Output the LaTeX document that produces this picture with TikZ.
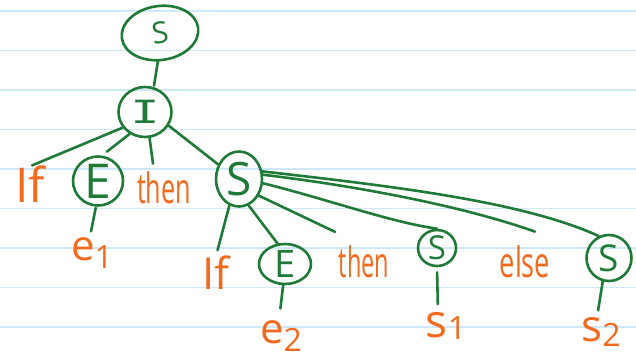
\documentclass[tikz,border=0pt]{standalone}
\usepackage{fontspec}
\setmainfont{Open Sans}
\newfontfamily\monohand{DejaVu Sans Mono}
\usetikzlibrary{shapes.geometric}
\definecolor{treegreen}{HTML}{1F7A38}
\definecolor{leaforange}{HTML}{F26A1D}
\definecolor{ruleblue}{HTML}{CFE8F8}
\newcommand\fsz[1]{\fontsize{#1}{#1}\selectfont}
\newcommand\hand[2]{\scalebox{#1}[1]{#2}}
\newcommand\lowsub[2]{\raisebox{-#1pt}{\fsz{32}#2}}
\begin{document}
\begin{tikzpicture}[x=1pt,y=-1pt,
  nt/.style={ellipse, draw=treegreen, line width=2.6pt, inner sep=0pt, text=treegreen},
  leaf/.style={text=leaforange, inner sep=0pt},
  edge/.style={draw=treegreen, line width=2.6pt, line cap=round},
  rule/.style={draw=ruleblue, line width=1.6pt}]
\useasboundingbox[fill=white] (0,0) rectangle (636,359);
% ruled paper
\foreach \y in {11,50.5,90,129.5,169,208.5,248,287.5,327}
  \draw[rule] (0,\y) -- (636,\y);

% non-terminals
\node[nt, minimum width=77pt, minimum height=54pt, font=\fsz{30}, rotate=8] (top) at (160,33) {S};
\node[nt, minimum width=53pt, minimum height=50pt, font=\monohand\fsz{32}] (I) at (145,112) {\hand{1.5}{I}};
\node[nt, minimum width=50pt, minimum height=49pt, font=\fsz{48}] (E1) at (98,181) {E};
\node[nt, minimum width=46pt, minimum height=55pt, font=\fsz{46}] (Sa) at (239,179) {S};
\node[nt, minimum width=52pt, minimum height=40pt, font=\fsz{38}] (E2) at (285,264) {E};
\node[nt, minimum width=38pt, minimum height=36pt, font=\fsz{33}] (S1) at (437,248) {S};
\node[nt, minimum width=45pt, minimum height=46pt, font=\fsz{37}] (S2) at (609,258) {S};

% terminals
\node[leaf, font=\fsz{48}] (if1) at (30,184) {If};
\node[leaf, font=\fsz{42}] (then1) at (164,188) {\hand{0.6}{then}};
\node[leaf, font=\fsz{42}] (e1) at (92,253) {e\lowsub{8}{1}};
\node[leaf, font=\fsz{44}] (if2) at (216,273) {If};
\node[leaf, font=\fsz{42}] (e2) at (281,336) {e\lowsub{8}{2}};
\node[leaf, font=\fsz{42}] (then2) at (364,262) {\hand{0.56}{then}};
\node[leaf, font=\fsz{42}] (else) at (525,262) {\hand{0.65}{else}};
\node[leaf, font=\fsz{46}] (s1) at (446,326) {s\lowsub{2}{1}};
\node[leaf, font=\fsz{44}] (s2) at (601,332) {s\lowsub{5}{2}};

% branches
\draw[edge] ([xshift=-6pt]top.south) -- ([xshift=9pt]I.north);
\draw[edge] (I.215) -- ([xshift=2pt]if1.north);
\draw[edge] (I.235) -- ([yshift=5pt]E1.70);
\draw[edge] (I.280) -- ([xshift=-11pt,yshift=8pt]then1.north);
\draw[edge] (I.-30) -- (Sa.145);
\draw[edge] ([yshift=-1pt]E1.265) -- ([xshift=-1pt,yshift=6pt]e1.north);
\draw[edge, shorten >=6pt] (Sa.250) -- (if2.north);
\draw[edge] (Sa.290) -- (E2.110);
\draw[edge, shorten >=32pt] (Sa.-40) -- (then2.north);
\draw[edge] (Sa.-10) .. controls (330,200) and (390,222) .. (S1.north);
\draw[edge] (Sa.10) .. controls (350,185) and (460,205) .. ([xshift=10pt,yshift=14pt]else.north);
\draw[edge] (Sa.18) .. controls (380,185) and (520,200) .. (S2.115);
\draw[edge, shorten <=5pt, shorten >=8pt] (S1.south) -- ([xshift=-8pt]s1.north);
\draw[edge, shorten >=7pt] (S2.255) -- ([xshift=-4pt]s2.north);
\draw[edge, shorten >=12pt] (E2.265) -- ([xshift=-2pt]e2.north);
\end{tikzpicture}
\end{document}
